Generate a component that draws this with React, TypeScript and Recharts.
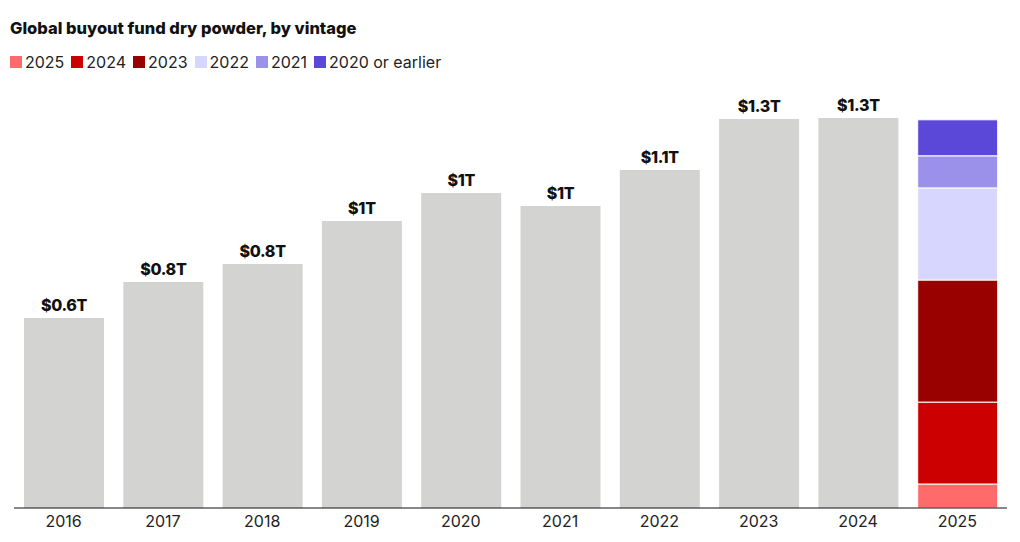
import { Bar, BarChart, LabelList, XAxis, YAxis } from "recharts";

const years = ["2016", "2017", "2018", "2019", "2020", "2021", "2022", "2023", "2024", "2025"];
// $T of dry powder, total bars for 2016-2024
const totals = [0.633, 0.753, 0.813, 0.957, 1.05, 1.007, 1.127, 1.297, 1.3, null];
const labels = ["$0.6T", "$0.8T", "$0.8T", "$1T", "$1T", "$1T", "$1.1T", "$1.3T", "$1.3T", "$1.3T"];

// 2025 bar split by vintage, bottom to top
const vintages = [
  { key: "v2025", name: "2025", color: "#ff6b6b", value: 0.08 },
  { key: "v2024", name: "2024", color: "#cc0000", value: 0.273 },
  { key: "v2023", name: "2023", color: "#990000", value: 0.407 },
  { key: "v2022", name: "2022", color: "#d6d6ff", value: 0.307 },
  { key: "v2021", name: "2021", color: "#9b91ea", value: 0.107 },
  { key: "vEarlier", name: "2020 or earlier", color: "#5b48d9", value: 0.12 },
];

const data = years.map((year, i) => {
  const row: Record<string, string | number | null> = { year, total: totals[i], label: labels[i] };
  for (const v of vintages) row[v.key] = year === "2025" ? v.value : null;
  return row;
});

const FONT = "Inter, 'Noto Sans', sans-serif";

function TopLabel(props: any) {
  const { x, y, width, value } = props;
  if (value == null || !width) return null;
  return (
    <text
      x={x + width / 2}
      y={y - 7}
      textAnchor="middle"
      fontFamily={FONT}
      fontSize={16}
      fontWeight={800}
      fill="#111"
      letterSpacing={-0.3}
    >
      {value}
    </text>
  );
}

export default function App() {
  return (
    <div style={{ position: "absolute", left: 0, top: 0, width: 1020, height: 542, background: "#fff" }}>
      <div
        style={{
          position: "absolute",
          left: 10,
          top: 17,
          fontFamily: FONT,
          fontSize: 16.5,
          fontWeight: 800,
          color: "#111",
          letterSpacing: 0,
          lineHeight: "22px",
          whiteSpace: "nowrap",
        }}
      >
        Global buyout fund dry powder, by vintage
      </div>
      <div
        style={{
          position: "absolute",
          left: 10,
          top: 51,
          display: "flex",
          alignItems: "center",
          fontFamily: FONT,
          fontSize: 16,
          lineHeight: "22px",
          color: "#222",
          whiteSpace: "nowrap",
        }}
      >
        {vintages.map((v) => (
          <div key={v.key} style={{ display: "flex", alignItems: "center", marginRight: 7 }}>
            <span style={{ width: 12, height: 12, background: v.color, display: "inline-block", marginRight: 3 }} />
            <span>{v.name}</span>
          </div>
        ))}
      </div>
      <BarChart
        width={1020}
        height={542}
        data={data}
        margin={{ top: 118, right: 13, bottom: 4, left: 14 }}
        barSize={80}
      >
        <XAxis
          dataKey="year"
          height={30}
          tickLine={false}
          axisLine={{ stroke: "#111", strokeWidth: 1 }}
          tick={{ fill: "#222", fontSize: 16, fontFamily: FONT }}
          tickMargin={2}
        />
        <YAxis hide domain={[0, 1.3]} />
        <Bar dataKey="total" stackId="a" fill="#d3d3d1" isAnimationActive={false}>
          <LabelList dataKey="label" content={(p: any) => (data[p.index]?.total == null ? null : <TopLabel {...p} />)} />
        </Bar>
        {vintages.map((v, i) => (
          <Bar
            key={v.key}
            dataKey={v.key}
            name={v.name}
            stackId="a"
            fill={v.color}
            stroke="#fff"
            strokeWidth={1}
            isAnimationActive={false}
          >
            {i === vintages.length - 1 && (
              <LabelList
                dataKey="label"
                content={(p: any) => (data[p.index]?.[v.key] == null ? null : <TopLabel {...p} />)}
              />
            )}
          </Bar>
        ))}
      </BarChart>
    </div>
  );
}
